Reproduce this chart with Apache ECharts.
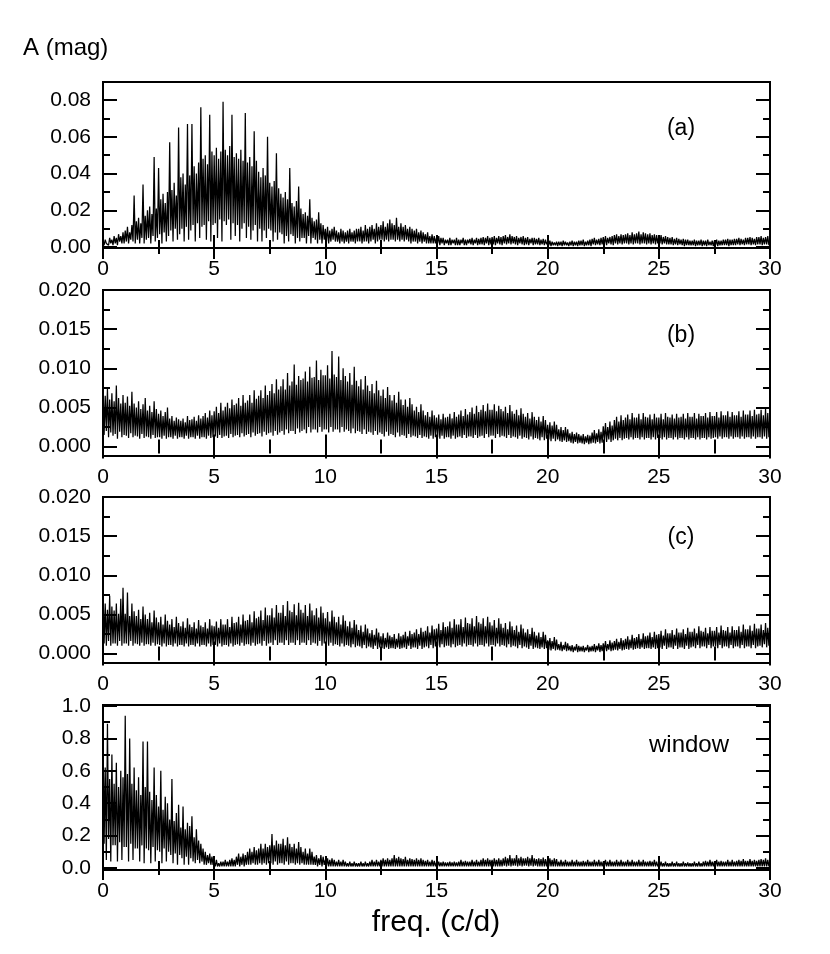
<!DOCTYPE html>
<html><head><meta charset="utf-8">
<script src="https://cdn.jsdelivr.net/npm/echarts@6/dist/echarts.min.js"></script>
<style>html,body{margin:0;padding:0;background:#fff}#c{width:830px;height:954px}</style>
</head><body><div id="c"></div>
<script>
// amplitude spectra, one value every 0.05 c/d from 0 to 30 c/d
const freqStep = 0.05;

// panel (a), in mmag
const ampA_mmag = [
3,1,4,2,3,1,5,2,4,1,
6,2,5,1,7,3,6,2,8,2,
9,3,11,2,8,4,12,3,28,2,
14,4,16,2,13,5,34,2,17,4,
20,5,22,2,18,6,49,3,21,5,
43,7,26,2,29,8,24,3,30,6,
57,9,31,3,35,10,28,4,65,7,
38,10,40,3,34,11,67,4,39,9,
67,12,44,3,40,13,46,5,76,11,
48,12,50,4,45,14,72,3,52,12,
50,13,54,5,48,15,52,3,79,14,
53,12,50,15,55,4,72,13,49,6,
51,12,48,3,53,10,47,13,73,5,
46,11,49,4,44,9,63,12,47,3,
41,10,38,3,43,9,39,5,60,10,
35,9,33,3,36,8,51,4,32,8,
29,7,27,2,30,6,26,3,43,7,
24,6,22,2,25,5,33,3,21,5,
18,5,19,2,17,6,26,2,16,5,
14,4,15,2,19,4,13,2,12,4,
10,3,11,2,9,3,10,4,11,3,
9,3,8,2,10,3,9,2,8,3,
9,2,10,3,8,3,9,2,10,3,
10,3,11,2,9,3,12,3,10,2,
11,3,12,4,10,2,13,3,11,4,
12,4,14,3,11,4,13,3,15,4,
13,4,12,3,16,4,11,3,13,4,
11,3,12,4,10,3,11,2,10,3,
9,3,10,2,8,3,9,2,8,3,
7,2,8,2,6,2,7,2,6,2,
5,2,6,1,5,2,5,1,4,2,
4,1,5,1,4,2,4,1,5,1,
4,1,4,2,5,1,4,1,4,2,
4.5,1.5,5,1,4,2,5,1,4.5,1.5,
5,1.5,5.5,1,5,2,6,1,5,1.5,
5.5,1.5,6,1,5,2,6,1.5,5.5,1,
6,2,6.5,1.5,5.5,2,7,1.5,6,2,
5.5,1.5,6,1,5,2,5.5,1.5,6,1,
5,1.5,5.5,1,4.5,2,5,1,5,1.5,
4.5,1.5,5,1,4,1.5,4.5,1,4,1.5,
3,1,3.5,0.5,3,1,2.5,1,3,0.5,
3,1,3,0.5,3.5,1,3,1,2.5,0.5,
3,1,3.5,0.5,3,1,3,0.5,3.5,1,
3.5,1,4,0.5,3,1,3.5,1,4,0.5,
4.5,1.5,5,1,4,1.5,4.5,1,5,1.5,
5.5,1.5,6,1,5,2,5.5,1.5,6,1,
6.5,2,7,1.5,6,2,7,1.5,6.5,2,
7,2,7.5,1.5,6.5,2,8,1.5,7,2,
7.5,2,8.5,1.5,7,2,8,2,7.5,1.5,
7,2,7.5,1.5,6.5,2,7,1.5,6.5,2,
6,2,6.5,1.5,5.5,2,6,1.5,5.5,1.5,
5,1.5,5.5,1,4.5,1.5,5,1,4.5,1.5,
4,1,4.5,0.5,4,1,4,1,3.5,1,
3.5,1,4,0.5,3.5,1,3.5,1,4,0.5,
3.5,1,3.5,0.5,4,1,3,1,3.5,0.5,
3.5,1,4,0.5,3.5,1,3.5,1,4,1,
4,1,4.5,0.5,4,1,4,1,4.5,1,
4.5,1.5,5,1,4.5,1.5,4,1,5,1.5,
5,1.5,5.5,1,5,1.5,4.5,1,5.5,1.5,
5.5,1.5,6,1,5,1.5,5.5,1.5,6,1,
5];

// panel (b), in mmag
const ampB_mmag = [
8.2,1.5,6.5,2,7.4,1.2,6,1.8,6.8,1.4,
5.8,1.6,7.8,1,6.2,1.9,5.5,1.2,6.6,1.5,
5.6,1.4,6.4,1.1,5.2,1.7,7,1.2,5.5,1.4,
5,1.3,5.8,1,4.8,1.6,5.4,1.1,6.2,1.3,
4.6,1.2,5.2,1,4.4,1.5,5.8,1.1,4.8,1.2,
4.2,1.2,4.6,1,3.9,1.4,4.4,1,5,1.2,
3.6,1.2,3.9,1,3.3,1.4,3.7,1,3.5,1.2,
3.3,1.2,3.6,1,3.1,1.4,3.9,1,3.4,1.2,
3.5,1.2,3.8,1,3.3,1.4,4,1,3.6,1.2,
3.9,1.2,4.3,1,3.7,1.4,4.6,1.1,4,1.2,
4.5,1.3,5.1,1.1,4.3,1.5,5.6,1.1,4.6,1.3,
5.1,1.4,5.6,1.1,4.9,1.6,6,1.2,5.3,1.4,
5.5,1.5,6.2,1.2,5.2,1.7,6.6,1.3,5.6,1.5,
5.9,1.6,6.6,1.2,5.6,1.8,7.2,1.4,6.1,1.6,
6.5,1.7,7.2,1.3,6.2,1.9,7.8,1.5,6.6,1.7,
7.1,1.8,8,1.4,6.8,2,8.6,1.5,7.3,1.8,
7.7,2,8.6,1.5,7.3,2.2,9.4,1.7,7.8,2,
8.3,2,10.5,1.6,7.9,2.3,9,1.8,8.5,2,
8.7,2.2,9.6,1.7,8.3,2.5,10.2,1.8,8.8,2.2,
8.9,2.2,11,1.8,8.5,2.5,9.8,1.9,9.1,2.2,
9.1,2.2,10.4,1.8,8.7,2.5,12.2,1.9,9.2,2.2,
8.9,2.2,11.5,1.8,8.5,2.5,10,1.9,9,2.2,
8.3,2,9.4,1.7,7.9,2.3,10.2,1.7,8.4,2,
7.7,1.9,8.6,1.6,7.3,2.2,9,1.6,7.8,1.9,
7.1,1.8,8,1.5,6.8,2,8.4,1.5,7.2,1.8,
6.5,1.6,7.3,1.3,6.2,1.9,7.6,1.4,6.6,1.6,
5.9,1.5,6.6,1.2,5.6,1.8,7,1.3,6,1.5,
5.3,1.4,6,1.1,5.1,1.6,6.2,1.2,5.4,1.4,
4.6,1.3,5.1,1.1,4.4,1.5,5.4,1.1,4.6,1.3,
4,1.2,4.4,1,3.8,1.4,4.6,1,4,1.2,
3.7,1.2,4.1,1,3.5,1.4,4.2,1,3.7,1.2,
3.8,1.2,4.2,1,3.6,1.4,4.4,1,3.8,1.2,
4.1,1.3,4.6,1.1,3.9,1.5,4.8,1.1,4.1,1.3,
4.4,1.3,5,1.1,4.2,1.5,5.2,1.1,4.4,1.3,
4.7,1.4,5.3,1.1,4.5,1.6,5.5,1.2,4.7,1.4,
4.7,1.4,5.4,1.1,4.5,1.6,5.2,1.2,4.8,1.4,
4.5,1.3,5.1,1.1,4.3,1.5,5.3,1.1,4.5,1.3,
4.2,1.2,4.7,1,4,1.4,4.9,1,4.2,1.2,
3.8,1.1,4.3,0.9,3.6,1.3,4.4,0.9,3.8,1.1,
3.4,1,3.8,0.8,3.2,1.2,3.9,0.8,3.4,1,
2.8,0.9,3.1,0.7,2.7,1,3.2,0.7,2.8,0.9,
2.2,0.7,2.5,0.6,2.1,0.8,2.5,0.6,2.2,0.7,
1.7,0.5,1.9,0.4,1.6,0.6,1.8,0.4,1.6,0.5,
1.4,0.4,1.6,0.3,1.3,0.5,1.5,0.3,1.4,0.4,
1.8,0.5,2.1,0.4,1.7,0.6,2.2,0.4,1.9,0.5,
2.6,0.8,3,0.6,2.5,0.9,3.2,0.6,2.7,0.8,
3.4,1,3.8,0.8,3.2,1.1,4,0.8,3.4,1,
3.7,1.1,4.1,0.9,3.5,1.2,4.3,0.9,3.7,1.1,
3.7,1.1,4.2,0.9,3.5,1.2,4.3,0.9,3.8,1.1,
3.7,1.1,4.1,0.9,3.5,1.2,4.2,0.9,3.7,1.1,
3.7,1.1,4.2,0.9,3.5,1.2,4.3,0.9,3.8,1.1,
3.7,1.1,4.1,0.9,3.6,1.2,4.2,0.9,3.7,1.1,
3.8,1.1,4.2,0.9,3.6,1.2,4.3,0.9,3.8,1.1,
3.8,1.1,4.3,0.9,3.6,1.2,4.2,0.9,3.9,1.1,
3.9,1.1,4.3,0.9,3.7,1.2,4.4,1,3.9,1.1,
3.9,1.2,4.4,1,3.7,1.3,4.5,1,4,1.2,
4,1.2,4.5,1,3.8,1.3,4.4,1,4,1.2,
4,1.2,4.5,1,3.8,1.3,4.6,1,4.1,1.2,
4.1,1.2,4.6,1,3.9,1.3,4.7,1,4.1,1.2,
4.2,1.2,4.7,1,4,1.3,4.8,1,4.3,1.2,
4.5];

// panel (c), in mmag
const ampC_mmag = [
8.2,1.3,6.4,1,5.6,1.6,7.4,1,6,1.3,
5.5,1.3,6.4,1,5.1,1.6,7,1,8.4,1.3,
5.1,1.3,7.8,1,4.8,1.6,6.4,1,5.4,1.3,
4.8,1.2,5.6,1,4.4,1.4,6,1,5,1.2,
4.4,1.2,5.2,1,4,1.4,5.5,1,4.6,1.2,
4,1.1,4.7,0.9,3.7,1.3,5,0.9,4.2,1.1,
3.7,1.1,4.4,0.9,3.4,1.3,4.7,0.9,3.9,1.1,
3.5,1.1,4.1,0.9,3.3,1.3,4.5,0.9,3.7,1.1,
3.4,1.1,4,0.9,3.2,1.3,4.3,0.9,3.6,1.1,
3.4,1.1,4,0.9,3.2,1.3,4.4,0.9,3.6,1.1,
3.5,1.1,4.1,0.9,3.3,1.3,4.4,0.9,3.7,1.1,
3.7,1.1,4.4,0.9,3.4,1.3,4.7,0.9,3.9,1.1,
4,1.2,4.7,1,3.7,1.4,5,1,4.2,1.2,
4.3,1.2,5,1,4,1.4,5.4,1,4.5,1.2,
4.7,1.3,5.5,1,4.3,1.6,5.9,1,4.9,1.3,
4.9,1.4,5.8,1.1,4.6,1.7,6.2,1.1,5.2,1.4,
5.2,1.4,6.2,1.1,4.8,1.7,6.7,1.1,5.5,1.4,
5.3,1.4,6.3,1.1,4.9,1.7,6.5,1.1,5.6,1.4,
5.2,1.4,6.2,1.1,4.8,1.7,6.4,1.1,5.5,1.4,
4.9,1.3,5.8,1,4.6,1.6,6,1,5.2,1.3,
4.5,1.2,5.3,1,4.1,1.4,5.5,1,4.7,1.2,
4,1.1,4.7,0.9,3.7,1.3,4.9,0.9,4.2,1.1,
3.5,1,4.1,0.8,3.3,1.2,4.3,0.8,3.7,1,
3,0.9,3.6,0.7,2.8,1.1,3.7,0.7,3.2,0.9,
2.6,0.8,3,0.6,2.4,1,3.2,0.6,2.7,0.8,
2.2,0.7,2.6,0.6,2,0.8,2.7,0.6,2.3,0.7,
2.1,0.7,2.5,0.6,1.9,0.8,2.6,0.6,2.2,0.7,
2.4,0.8,2.8,0.6,2.2,1,2.9,0.6,2.5,0.8,
2.7,0.8,3.1,0.6,2.5,1,3.3,0.6,2.8,0.8,
2.9,0.9,3.5,0.7,2.7,1.1,3.6,0.7,3.1,0.9,
3.2,1,3.8,0.8,3,1.2,4,0.8,3.4,1,
3.5,1,4.1,0.8,3.3,1.2,4.4,0.8,3.7,1,
3.7,1.1,4.4,0.9,3.4,1.3,4.6,0.9,3.9,1.1,
3.8,1.1,4.5,0.9,3.5,1.3,4.8,0.9,4,1.1,
3.8,1.1,4.5,0.9,3.5,1.3,4.7,0.9,4,1.1,
3.6,1.1,4.3,0.9,3.3,1.3,4.5,0.9,3.8,1.1,
3.3,1,3.9,0.8,3.1,1.2,4.1,0.8,3.5,1,
3,0.9,3.6,0.7,2.8,1.1,3.7,0.7,3.2,0.9,
2.7,0.8,3.1,0.6,2.5,1,3.3,0.6,2.8,0.8,
2.3,0.7,2.7,0.6,2.1,0.8,2.8,0.6,2.4,0.7,
1.7,0.5,2,0.4,1.6,0.6,2.1,0.4,1.8,0.5,
1.2,0.4,1.5,0.3,1.1,0.5,1.5,0.3,1.3,0.4,
1,0.3,1.1,0.2,0.9,0.4,1.2,0.2,1,0.3,
0.9,0.3,1,0.2,0.8,0.4,1.1,0.2,0.9,0.3,
1,0.3,1.2,0.2,1,0.4,1.3,0.2,1.1,0.3,
1.3,0.4,1.6,0.3,1.2,0.5,1.7,0.3,1.4,0.4,
1.6,0.5,1.9,0.4,1.5,0.6,2,0.4,1.7,0.5,
1.9,0.6,2.2,0.5,1.8,0.7,2.4,0.5,2,0.6,
2.1,0.7,2.5,0.6,1.9,0.8,2.6,0.6,2.2,0.7,
2.3,0.7,2.7,0.6,2.1,0.8,2.8,0.6,2.4,0.7,
2.5,0.8,2.9,0.6,2.3,1,3.1,0.6,2.6,0.8,
2.6,0.8,3,0.6,2.4,1,3.2,0.6,2.7,0.8,
2.7,0.8,3.1,0.6,2.5,1,3.3,0.6,2.8,0.8,
2.8,0.9,3.2,0.7,2.6,1.1,3.5,0.7,2.9,0.9,
2.8,0.9,3.3,0.7,2.6,1.1,3.4,0.7,2.9,0.9,
2.9,0.9,3.4,0.7,2.7,1.1,3.6,0.7,3,0.9,
2.9,0.9,3.4,0.7,2.7,1.1,3.5,0.7,3,0.9,
3,0.9,3.5,0.7,2.8,1.1,3.7,0.7,3.1,0.9,
3.1,0.9,3.6,0.7,2.9,1.1,3.8,0.7,3.2,0.9,
3.2,1,3.7,0.8,3,1.2,3.9,0.8,3.3,1,
4];

// spectral window, in percent of full amplitude
const ampWin_pct = [
88,15,62,5,89,18,55,4,70,14,
52,14,65,4,50,16,60,5,56,13,
94,13,58,4,80,15,52,5,62,12,
48,12,56,4,45,14,78,3,50,12,
78,11,47,3,42,13,62,4,45,11,
38,10,60,3,36,12,44,4,40,10,
30,8,55,3,29,9,34,2,39,8,
25,6,38,2,24,7,28,2,26,6,
32,4,19,3,24,5,17,3,15,4,
12,2,10,2,8,3,9,2,7,2,
4,1,5,1,3,1,4,1,4,1,
5,1,4,1,5,1,6,1,5,1,
7,2,9,1,7,2,9,1,8,2,
10,2,12,2,10,3,13,2,11,2,
12,3,15,2,12,3,15,2,13,3,
14,3,21,2,14,4,17,2,15,3,
15,3,18,2,14,4,19,2,15,3,
13,3,15,2,12,3,16,2,13,3,
10,2,12,2,9,2,12,2,10,2,
7,2,8,1,6,2,8,1,7,2,
5,1,6,1,5,1,6,1,5,1,
4,1,5,1,4,1,5,1,4,1,
3,1,4,1,3,1,4,1,3,1,
3,1,4,1,3,1,4,1,3,1,
4,1,5,1,4,1,5,1,4,1,
5,1,6,1,5,1,6,1,5,1,
6,1,8,1,6,1,7,1,6,1,
5.5,1,7,1,5,1,6,1,5.5,1,
5,1,6,1,5,1,6,1,5,1,
4.5,1,5,1,4,1,5,1,4.5,1,
3.5,1,4,1,3.5,1,4,1,3.5,1,
3.5,1,4,1,3.5,1,4,1,3.5,1,
4,1,5,1,4,1,4.5,1,4,1,
4,1,5,1,4,1,5,1,4,1,
5,1,6,1,5,1,6,1,5,1,
5,1,6,1,5,1,6,1,5,1,
6,1.5,7,1,6,1.5,8,1,6,1.5,
6,1.5,8,1,6,1.5,7,1,6,1.5,
6,1.5,7,1,6,1.5,8,1,6,1.5,
5.5,1,6,1,5.5,1,6.5,1,5.5,1,
5.5,1,6,1,5,1,6,1,5.5,1,
4,1,5,1,4,1,5,1,4,1,
4,1,5,1,4,1,5,1,4,1,
4,1,4.5,1,4,1,5,1,4,1,
4,1,5,1,4,1,5,1,4,1,
4,1,5,1,4,1,5,1,4,1,
4,1,5,1,4,1,5,1,4,1,
4,1,5,1,4,1,5,1,4,1,
4,1,5,1,4,1,5,1,4,1,
4,1,4.5,1,4,1,5,1,4,1,
3,1,4,1,3,1,4,1,3,1,
3,1,4,1,3,1,4,1,3,1,
3,1,4,1,3,1,3.5,1,3,1,
3,1,4,1,3,1,4,1,3,1,
4,1,4.5,1,4,1,5,1,4,1,
4,1,5,1,4,1,4.5,1,4,1,
4,1,5,1,4,1,5,1,4,1,
4.5,1,5,1,4.5,1,5.5,1,4.5,1,
4.5,1,5.5,1,4.5,1,5,1,4.5,1,
5,1,5.5,1,5,1,6,1,5,1,
5];

// tick values / labels
const yTicksA = [0, 0.02, 0.04, 0.06, 0.08];
const yMinorA = [0.01, 0.03, 0.05, 0.07];
const yTicksBC = [0, 0.005, 0.010, 0.015, 0.020];
const yMinorBC = [0.0025, 0.0075, 0.0125, 0.0175];
const yTicksW = [0, 0.2, 0.4, 0.6, 0.8, 1.0];
const yMinorW = [0.1, 0.3, 0.5, 0.7, 0.9];
const panelLabels = ['(a)', '(b)', '(c)', 'window'];
const yAxisTitle = 'A (mag)';
const xAxisTitle = 'freq. (c/d)';

const FONT = "'Liberation Sans', Arial, Helvetica, sans-serif";
const panels = [
  {amp: ampA_mmag,  unit: 0.001, top: 82,  h: 166, min: -0.0005, max: 0.0898, major: yTicksA,  minor: yMinorA,  dec: 2, lx: 681, ly: 128.5},
  {amp: ampB_mmag,  unit: 0.001, top: 290, h: 166, min: -0.0012, max: 0.020,  major: yTicksBC, minor: yMinorBC, dec: 3, lx: 681, ly: 336},
  {amp: ampC_mmag,  unit: 0.001, top: 497, h: 166, min: -0.0012, max: 0.020,  major: yTicksBC, minor: yMinorBC, dec: 3, lx: 681, ly: 537.5},
  {amp: ampWin_pct, unit: 0.01,  top: 705, h: 165, min: -0.012,  max: 1.006,  major: yTicksW,  minor: yMinorW,  dec: 1, lx: 689, ly: 745}
];

const tickStyle = {color: '#000', width: 2};
const grid = [], xAxis = [], yAxis = [], series = [], graphic = [];

panels.forEach((p, k) => {
  grid.push({left: 103, width: 667, top: p.top, height: p.h, show: true,
             borderColor: '#000', borderWidth: 2, backgroundColor: 'rgba(0,0,0,0)'});
  const xBase = {
    gridIndex: k, type: 'value', min: 0, max: 30, interval: 5,
    splitLine: {show: false}, axisLine: {show: false},
    axisTick: {show: true, inside: true, length: 12, lineStyle: tickStyle},
    minorTick: {show: true, splitNumber: 2, length: 7, lineStyle: tickStyle},
    minorSplitLine: {show: false}
  };
  xAxis.push(Object.assign({}, xBase, {position: 'bottom',
    axisLabel: {show: true, margin: 11, color: '#000', fontSize: 21, fontFamily: FONT}}));
  xAxis.push(Object.assign({}, xBase, {position: 'top', axisLabel: {show: false}}));

  ['left', 'right'].forEach(pos => {
    yAxis.push({
      gridIndex: k, type: 'value', min: p.min, max: p.max, position: pos,
      splitLine: {show: false}, axisLine: {show: false},
      axisTick: {show: true, inside: true, length: 14, customValues: p.major, lineStyle: tickStyle},
      axisLabel: pos === 'left'
        ? {show: true, customValues: p.major, margin: 12, color: '#000', fontSize: 21, fontFamily: FONT,
           formatter: v => Number(v).toFixed(p.dec)}
        : {show: false}
    });
    yAxis.push({
      gridIndex: k, type: 'value', min: p.min, max: p.max, position: pos,
      splitLine: {show: false}, axisLine: {show: false},
      axisTick: {show: true, inside: true, length: 7, customValues: p.minor, lineStyle: tickStyle},
      axisLabel: {show: false}
    });
  });

  series.push({
    type: 'line', xAxisIndex: 2 * k, yAxisIndex: 4 * k,
    data: p.amp.map((a, i) => [i * freqStep, a * p.unit]),
    symbol: 'none', showSymbol: false, sampling: null,
    lineStyle: {color: '#000', width: 1.25}, silent: true, animation: false, clip: true
  });

  graphic.push({type: 'text', x: p.lx, y: p.ly,
    style: {text: panelLabels[k], fill: '#000', font: (k === 3 ? '24px ' : '23px ') + FONT,
            textAlign: 'center', textVerticalAlign: 'middle'}});
});

graphic.push({type: 'text', x: 23, y: 48,
  style: {text: yAxisTitle, fill: '#000', font: '24px ' + FONT, textAlign: 'left', textVerticalAlign: 'middle'}});
graphic.push({type: 'text', x: 436, y: 923,
  style: {text: xAxisTitle, fill: '#000', font: '30px ' + FONT, textAlign: 'center', textVerticalAlign: 'middle'}});

const chart = echarts.init(document.getElementById('c'), null, {renderer: 'canvas'});
chart.setOption({animation: false, backgroundColor: '#fff', grid, xAxis, yAxis, series, graphic});
</script>
</body></html>
